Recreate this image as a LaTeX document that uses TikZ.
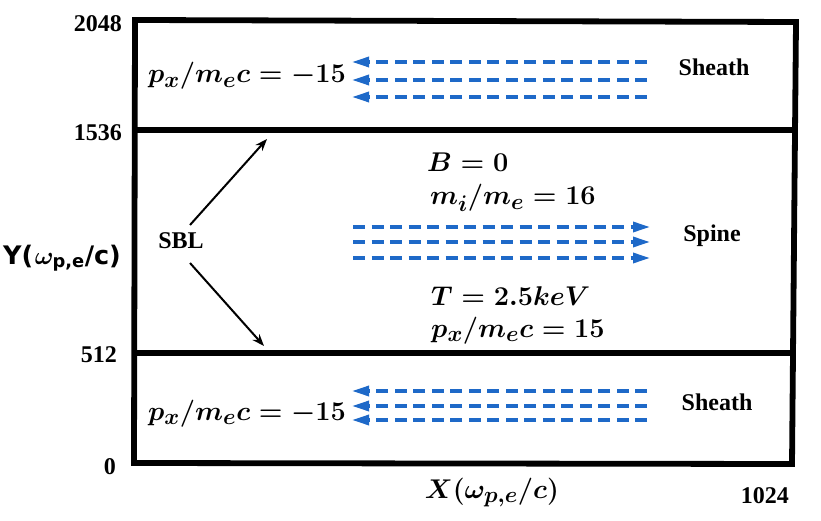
\documentclass[tikz,border=0pt]{standalone}
\usepackage{amsmath,bm,graphicx}
\usepackage{fontspec}
\setmainfont{Liberation Serif}
\setsansfont{Liberation Sans}
\newfontfamily\ysans{DejaVu Sans}
\usetikzlibrary{arrows.meta}
\definecolor{flowblue}{RGB}{30,105,200}
\newcommand{\mymath}[1]{\scalebox{1.09}{$#1$}}
\begin{document}
\begin{tikzpicture}[x=1pt,y=-1pt,
  lab/.style={font=\fontsize{24}{28}\selectfont\bfseries, inner sep=0pt},
  mlab/.style={font=\fontsize{24.88}{30}\selectfont\boldmath, inner sep=0pt},
  frame/.style={line width=5.8pt, line join=miter},
  flow/.style={flowblue, line width=3.2pt, dash pattern=on 12pt off 6.5pt,
    -{Triangle[length=17pt,width=10pt]}},
  sblarrow/.style={black, line width=2pt, -{Stealth[length=12pt,width=9pt]}}]
\useasboundingbox (0,0) rectangle (821,521);
% frame
\coordinate (tl) at (135,20);
\coordinate (tr) at (796,22);
\coordinate (br) at (792,464);
\coordinate (bl) at (134,463);
\draw[frame] (tl) -- (tr) -- (br) -- (bl) -- cycle;
\coordinate (ul) at (135,130);
\coordinate (ur) at (795,130);
\coordinate (ll) at (134,353);
\coordinate (lr) at (793,353);
\draw[frame] (ul) -- (ur);
\draw[frame] (ll) -- (lr);
% axis labels
\node[lab, anchor=base east] (y2048) at (122,32) {2048};
\node[lab, anchor=base east] (y1536) at (122,141) {1536};
\node[lab, anchor=base east] (y512) at (117,362) {512};
\node[lab, anchor=base east] (y0) at (116,474) {0};
\node[lab, anchor=base east] (x1024) at (789,503) {1024};
\node[mlab, anchor=base] (xlab) at (492,498) {\mymath{X(\omega_{p,e}/c)}};
\node[font=\fontsize{25.5}{30}\selectfont\ysans\bfseries, inner sep=0pt, anchor=base] (ylab) at (62,264)
  {Y(\kern1.5pt$\boldsymbol{\omega}_{\textrm{\ysans\bfseries p,e}}$/c)};
% region labels
\node[lab, anchor=base] (sh1) at (714,76) {Sheath};
\node[lab, anchor=base] (sp) at (712,242) {Spine};
\node[lab, anchor=base] (sh2) at (717,410) {Sheath};
\node[lab] (sbl) at (181,241) {SBL};
% math
\node[mlab, anchor=base west] (m1) at (148,83) {\mymath{p_x/m_ec=-15}};
\node[mlab, anchor=base west] (m2) at (148,420) {\mymath{p_x/m_ec=-15}};
\node[mlab, anchor=base west] (m3) at (427,172) {\mymath{B=0}};
\node[mlab, anchor=base west] (m4) at (430,205) {\mymath{m_i/m_e=16}};
\node[mlab, anchor=base west] (m5) at (431,305) {\mymath{T=2.5keV}};
\node[mlab, anchor=base west] (m6) at (431,337) {\mymath{p_x/m_ec=15}};
% SBL arrows
\coordinate (s1) at (190,225);
\coordinate (e1) at (267,139);
\coordinate (s2) at (190,263);
\coordinate (e2) at (264,346);
\draw[sblarrow] (s1) -- (e1);
\draw[sblarrow] (s2) -- (e2);
% flow arrows
\foreach \y [count=\i] in {62,80,97} {
  \coordinate (a\i) at (647,\y); \coordinate (b\i) at (352,\y);
  \draw[flow] (a\i) -- (b\i);
}
\foreach \y [count=\i] in {227,242,258} {
  \coordinate (c\i) at (353,\y); \coordinate (d\i) at (650,\y);
  \draw[flow] (c\i) -- (d\i);
}
\foreach \y [count=\i] in {391,406,420} {
  \coordinate (f\i) at (647,\y); \coordinate (g\i) at (352,\y);
  \draw[flow] (f\i) -- (g\i);
}
\end{tikzpicture}
\end{document}
